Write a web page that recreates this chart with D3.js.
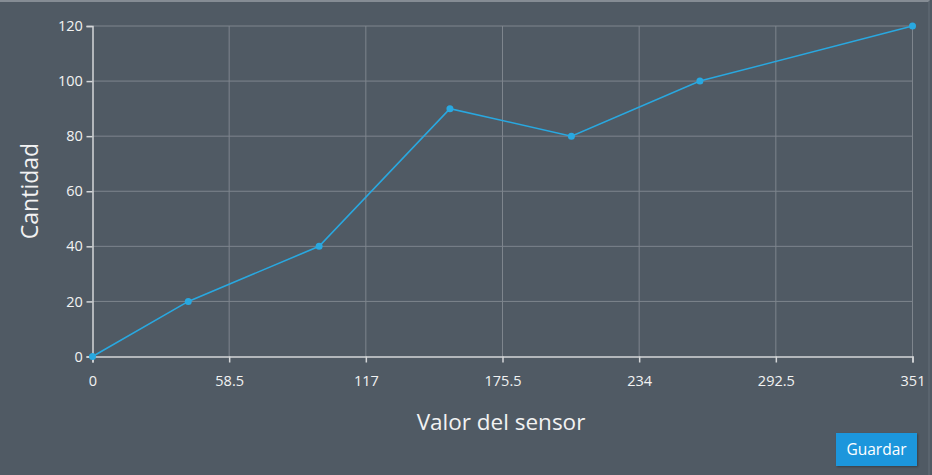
<!DOCTYPE html>
<html><head><meta charset="utf-8">
<script src="https://cdn.jsdelivr.net/npm/d3@7"></script>
<style>
html,body{margin:0;padding:0;background:#505a64;}
body{width:932px;height:475px;overflow:hidden;position:relative;font-family:"Open Sans",sans-serif;}
#frame{position:absolute;left:0;top:0;width:930px;height:475px;border-top:2px solid #858c94;border-right:2px solid #5a646e;box-sizing:border-box;}
svg{position:absolute;left:0;top:0;}
#btn{position:absolute;left:836px;top:433px;width:81px;height:33px;background:#1c96dc;color:#fff;font-size:15.5px;line-height:33px;text-align:center;font-family:"Open Sans",sans-serif;box-shadow:1px 1px 2px rgba(0,0,0,0.3);}
</style></head>
<body>
<div id="frame"></div>
<svg id="chart" width="932" height="475"></svg>
<div id="btn">Guardar</div>
<script>
const xValues = [0, 41, 97, 153, 205, 260, 351];
const yValues = [0, 20, 40, 90, 80, 100, 120];
const xTicks = [0, 58.5, 117, 175.5, 234, 292.5, 351];
const yTicks = [0, 20, 40, 60, 80, 100, 120];
const xTitle = "Valor del sensor";
const yTitle = "Cantidad";

(function () {
const svg = d3.select("#chart");
const pL = 92.5, pR = 912.5, pT = 26, pB = 356.5;
const x = d3.scaleLinear().domain([0, 351]).range([pL, pR]);
const y = d3.scaleLinear().domain([0, 120]).range([pB, pT]);

svg.append("g").selectAll("line").data(xTicks.slice(1)).join("line")
  .attr("x1", d => x(d)).attr("x2", d => x(d)).attr("y1", pT).attr("y2", pB)
  .attr("stroke", "#7e858d").attr("stroke-width", 1);
svg.append("g").selectAll("line").data(yTicks.slice(1)).join("line")
  .attr("x1", pL).attr("x2", pR).attr("y1", d => y(d)).attr("y2", d => y(d))
  .attr("stroke", "#7e858d").attr("stroke-width", 1);

const xAxis = svg.append("g").attr("transform", `translate(0,${pB})`)
  .call(d3.axisBottom(x).tickValues(xTicks).tickFormat(d => String(d)).tickSize(6).tickSizeOuter(6));
const yAxis = svg.append("g").attr("transform", `translate(${pL},0)`)
  .call(d3.axisLeft(y).tickValues(yTicks).tickFormat(d => String(d)).tickSize(6).tickSizeOuter(6));
[xAxis, yAxis].forEach(a => {
  a.selectAll("path,line").attr("stroke", "#d4d6d8").attr("stroke-width", 1.5);
  a.selectAll("text").attr("fill", "#f2f2f2").attr("font-size", 14.5).attr("font-family", "Open Sans");
});
xAxis.selectAll("text").attr("dy", "1.4em");
yAxis.selectAll("text").attr("dx", "-0.05em");

const line = d3.line().x((d, i) => x(xValues[i])).y(d => y(d));
svg.append("path").datum(yValues).attr("d", line)
  .attr("fill", "none").attr("stroke", "#29a8e0").attr("stroke-width", 1.6);
svg.append("g").selectAll("circle").data(yValues).join("circle")
  .attr("cx", (d, i) => x(xValues[i])).attr("cy", d => y(d)).attr("r", 3.5)
  .attr("fill", "#29a8e0");

svg.append("text").attr("x", 501).attr("y", 430).attr("text-anchor", "middle")
  .attr("fill", "#f2f2f2").attr("font-size", 22.5).attr("font-family", "Open Sans").text(xTitle);
svg.append("text").attr("transform", "translate(38,191) rotate(-90)").attr("text-anchor", "middle")
  .attr("fill", "#f2f2f2").attr("font-size", 23).attr("font-family", "Open Sans").text(yTitle);
})();
</script>
</body></html>
